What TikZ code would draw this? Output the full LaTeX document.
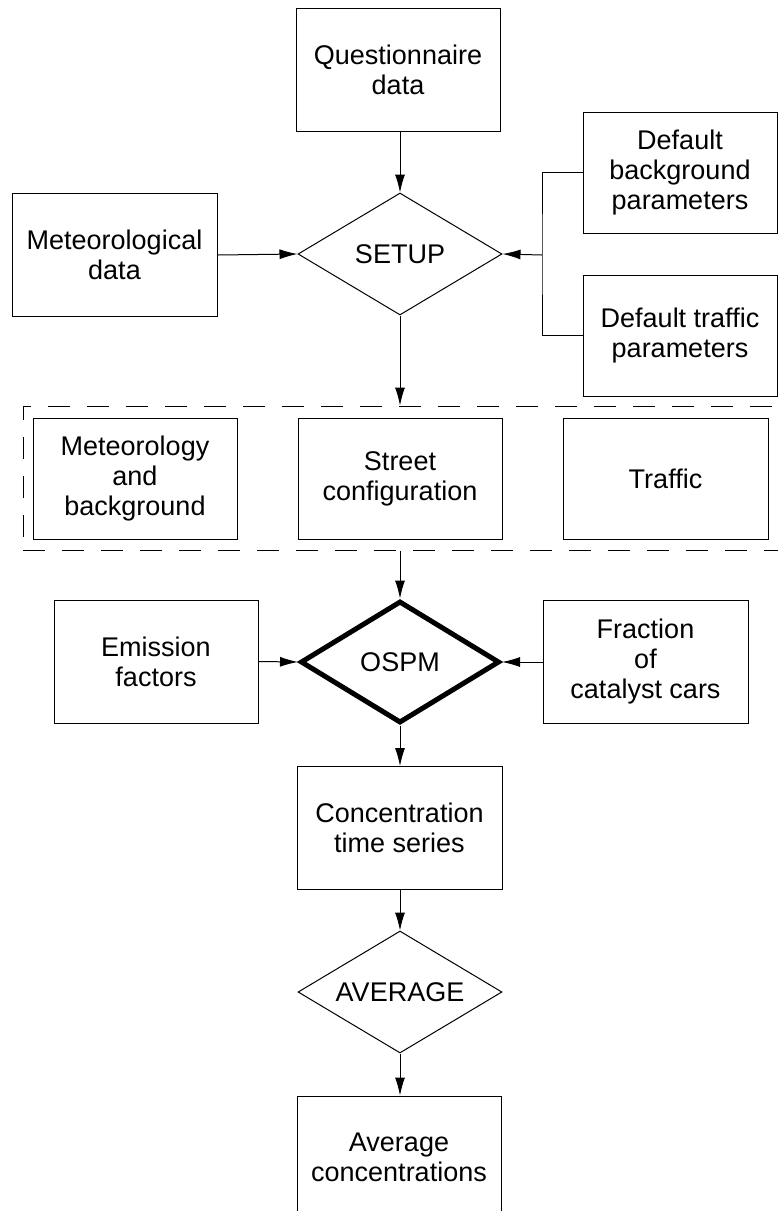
\documentclass[tikz,border=0pt]{standalone}
\usepackage{fontspec}
\setmainfont{Liberation Sans}
\usetikzlibrary{shapes.geometric,arrows.meta}
\begin{document}
\begin{tikzpicture}[x=1pt,y=-1pt,
  lbl/.style={font=\fontsize{27}{30}\selectfont},
  box/.style={lbl, draw, rectangle, line width=1pt, minimum width=204pt, minimum height=123pt, inner sep=0pt, align=center},
  dia/.style={lbl, draw, diamond, shape aspect=1.67, line width=1pt, minimum width=204pt, minimum height=122pt, inner sep=0pt},
  arr/.style={-{Latex[length=18pt,width=10pt]}, line width=1pt},
  conn/.style={line width=1pt},
  grp/.style={draw, line width=1pt, dash pattern=on 22pt off 17pt, minimum width=790pt, minimum height=144pt, inner sep=0pt}]
\useasboundingbox (0,0) rectangle (778,1211);
\clip (0,0) rectangle (778,1211);

\node[box] (quest) at (398,70) {Questionnaire\\data};
\node[box, minimum width=205pt] (met) at (114.5,255) {Meteorological\\data};
\node[dia] (setup) at (400,254) {SETUP};
\node[box, minimum width=194pt, minimum height=121pt] (defbg) at (680,172.5) {Default\\background\\parameters};
\node[box, minimum width=194pt, minimum height=121pt] (deftr) at (680,335.5) {Default traffic\\parameters};

\node[grp] (group) at (418,478) {};
\node[box, minimum height=121pt] (metbg) at (135,478.5) {Meteorology\\and\\background};
\node[box, minimum height=121pt] (street) at (400,478.5) {Street\\configuration};
\node[box, minimum width=205pt, minimum height=121pt] (traffic) at (665.5,478.5) {Traffic};

\node[dia, line width=5pt, minimum width=199pt, minimum height=122pt] (ospm) at (400,662) {OSPM};
\node[box] (emis) at (156,661.5) {Emission\\factors};
\node[box, minimum width=205pt] (frac) at (645.5,662) {Fraction\\of\\catalyst cars};

\node[box, minimum width=205pt] (conc) at (399.5,828) {Concentration\\time series};
\node[dia] (avg) at (400,992) {AVERAGE};
\node[box] (avgc) at (399,1157.5) {Average\\concentrations};

\coordinate (brk) at (542,255);
\draw[arr] (setup.north |- quest.south) -- (setup.north);
\draw[arr] (met.east) -- (setup.west);
\draw[conn] (defbg.west) -| (brk) |- (deftr.west);
\draw[arr] (brk) -- (setup.east);
\draw[arr] (setup.south) -- (setup.south |- group.north);
\draw[arr] (ospm.north |- group.south) -- (ospm.north);
\draw[arr] (emis.east) -- (ospm.west);
\draw[arr] (frac.west) -- (ospm.east);
\draw[arr] (ospm.south) -- (ospm.south |- conc.north);
\draw[arr] (avg.north |- conc.south) -- (avg.north);
\draw[arr] (avg.south) -- (avg.south |- avgc.north);
\end{tikzpicture}
\end{document}
